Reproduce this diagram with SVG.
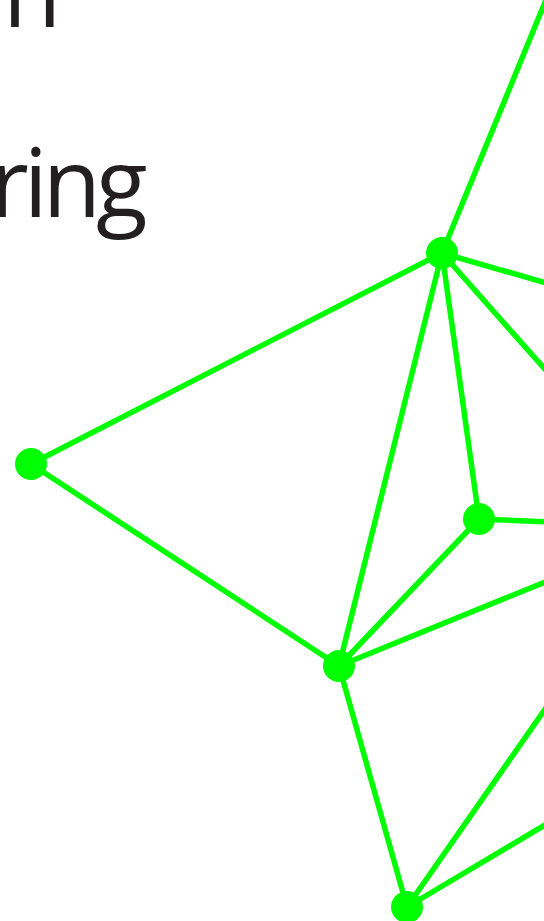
<svg xmlns="http://www.w3.org/2000/svg" width="544" height="921" viewBox="0 0 544 921">
<style>
.t{font-family:"Open Sans","Noto Sans",sans-serif;font-size:95px;fill:#231f20;letter-spacing:-5px}
.e{stroke:#00ff00;stroke-width:5.5;fill:none;stroke-linecap:round}
.n{fill:#00ff00}
</style>
<rect width="544" height="921" fill="#ffffff"/>
<text class="t" x="3" y="27">n</text>
<text class="t" x="-10" y="217">ring</text>
<g id="connectors">
<line class="e" x1="442" y1="253" x2="550" y2="-10"/>
<line class="e" x1="442" y1="253" x2="550" y2="284"/>
<line class="e" x1="442" y1="253" x2="550" y2="375"/>
<line class="e" x1="442" y1="253" x2="479" y2="519"/>
<line class="e" x1="442" y1="253" x2="339" y2="666"/>
<line class="e" x1="442" y1="253" x2="31" y2="464"/>
<line class="e" x1="31" y1="464" x2="339" y2="666"/>
<line class="e" x1="479" y1="519" x2="550" y2="522"/>
<line class="e" x1="479" y1="519" x2="339" y2="666"/>
<line class="e" x1="339" y1="666" x2="550" y2="580"/>
<line class="e" x1="339" y1="666" x2="407" y2="907"/>
<line class="e" x1="407" y1="907" x2="550" y2="702"/>
<line class="e" x1="407" y1="907" x2="550" y2="822"/>
</g>
<g id="node-a"><circle class="n" cx="442" cy="253" r="16"/></g>
<g id="node-b"><circle class="n" cx="31" cy="464" r="16"/></g>
<g id="node-c"><circle class="n" cx="479" cy="519" r="16"/></g>
<g id="node-d"><circle class="n" cx="339" cy="666" r="16"/></g>
<g id="node-e"><circle class="n" cx="407" cy="907" r="16"/></g>
</svg>
